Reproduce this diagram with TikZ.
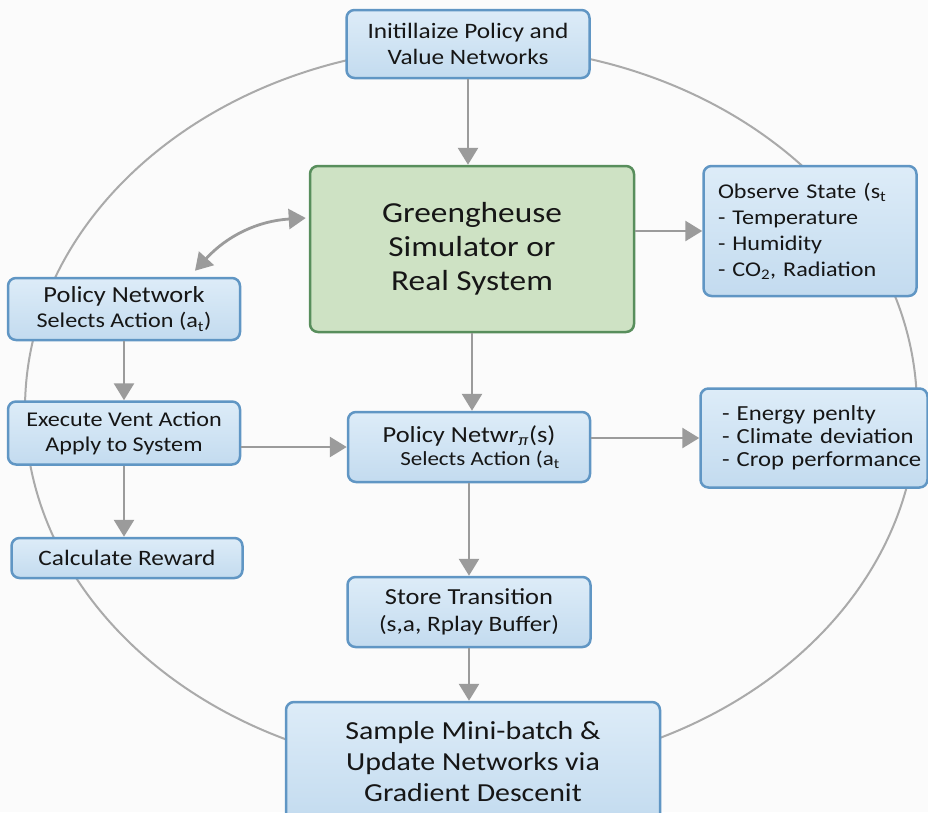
\documentclass[tikz,border=0pt]{standalone}
\usepackage{fontspec}
\setmainfont{Carlito}[FakeStretch=1.15]
\usetikzlibrary{arrows.meta}
\definecolor{boxline}{RGB}{96,150,196}
\definecolor{boxtop}{RGB}{221,236,248}
\definecolor{boxbot}{RGB}{195,219,239}
\definecolor{simline}{RGB}{88,142,92}
\definecolor{simfill}{RGB}{206,226,196}
\definecolor{flowgray}{RGB}{155,155,155}
\definecolor{cyclegray}{RGB}{170,170,170}
\definecolor{txt}{RGB}{22,22,22}
\definecolor{bgcol}{RGB}{251,251,251}
\tikzset{
	box/.style={
			rectangle, rounded corners=8pt, draw=boxline, line width=2.5pt,
			top color=boxtop, bottom color=boxbot, text=txt, align=center, inner sep=0pt
		},
	simbox/.style={box, draw=simline, top color=simfill, bottom color=simfill},
	flow/.style={draw=flowgray, line width=2.8pt, ->},
	cycleline/.style={draw=cyclegray, line width=2pt},
	>={Triangle[length=17pt,width=20pt]}
}

\begin{document}
\begin{tikzpicture}[x=1pt,y=-1pt]
		% Fix the page
		\fill[bgcol] (0,0) rectangle (928,812);
		\useasboundingbox (0,0) rectangle (928,812);
		% Draw the loop behind the boxes
		\draw[cycleline] (471,409) ellipse [x radius=446pt, y radius=363pt];
		% Draw the boxes
		\node[box, minimum width=243pt, minimum height=68pt, font=\fontsize{22}{26}\selectfont] (init) at (468,44) {Initillaize Policy and\\Value Networks};
		\node[simbox, minimum width=324pt, minimum height=166pt, font=\fontsize{29}{34}\selectfont] (sim) at (472,249) {Greengheuse\\Simulator or\\Real System};
		\node[box, minimum width=213pt, minimum height=130pt, font=\fontsize{21}{26}\selectfont, align=left, text width=184pt] (obs) at (810,231) {Observe State (s\textsubscript{t}\\- Temperature\\- Humidity\\- CO\textsubscript{2}, Radiation};
		\node[box, minimum width=232pt, minimum height=62pt] (polnet) at (124,309) {{\fontsize{23}{25}\selectfont Policy Network}\\[5pt]{\fontsize{21}{24}\selectfont Selects Action (a\textsubscript{t})}};
		\node[box, minimum width=232pt, minimum height=63pt, font=\fontsize{21}{25}\selectfont] (exe) at (124,433) {Execute Vent Action\\Apply to System};
		\node[box, minimum width=231pt, minimum height=40pt, font=\fontsize{22}{26}\selectfont] (rew) at (127,558) {Calculate Reward};
		\node[box, minimum width=242pt, minimum height=70pt] (pm) at (469,447) {{\fontsize{23}{26}\selectfont Policy Netw\textit{r}\textsubscript{\textit{π}}(s)}\\[4pt]{\fontsize{20}{24}\selectfont\hspace*{22pt}Selects Action (a\textsubscript{t}}};
		\node[box, minimum width=227pt, minimum height=99pt, font=\fontsize{21.5}{23}\selectfont, align=left, text width=216pt] (pen) at (814,438) {\hspace*{16pt}- Energy penlty\\\hspace*{16pt}- Climate deviation\\\hspace*{16pt}- Crop performance};
		\node[box, minimum width=243pt, minimum height=70pt, font=\fontsize{22}{27}\selectfont] (store) at (469,612) {{\fontsize{23}{27}\selectfont Store Transition}\\(s,a, Rplay Buffer)};
		\node[box, minimum width=374pt, minimum height=120pt, font=\fontsize{26}{31}\selectfont] (sample) at (473,762) {Sample Mini-batch \&\\Update Networks via\\Gradient Descenit};
		% Draw the arrows
		\draw[flow] (init.south) -- (init.south |- sim.north);
		\draw[flow] (obs.west -| sim.east) -- (obs.west);
		\draw[flow, <->] ([xshift=71pt,yshift=6pt]polnet.north) to[bend left=22] ([xshift=-3pt,yshift=31pt]sim.west);
		\draw[flow] (polnet) -- (exe);
		\draw[flow] (exe.south) -- (exe.south |- rew.north);
		\draw[flow] (exe.east |- pm.west) -- (pm.west);
		\draw[flow] (sim.south) -- (sim.south |- pm.north);
		\draw[flow] (pen.west -| pm.east) -- (pen.west);
		\draw[flow] (pm) -- (store);
		\draw[flow] (store.south) -- (store.south |- sample.north);
	\end{tikzpicture}
\end{document}
